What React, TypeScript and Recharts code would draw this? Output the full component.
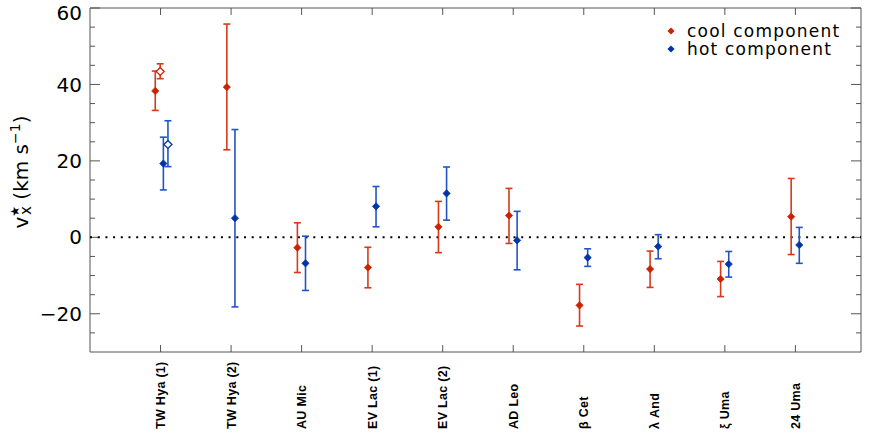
import React from 'react';
import { ScatterChart, Scatter, XAxis, YAxis, ErrorBar, ReferenceLine, ReferenceArea, Legend } from 'recharts';

// stars / observations, one tick each
const categories = ['TW Hya (1)', 'TW Hya (2)', 'AU Mic', 'EV Lac (1)', 'EV Lac (2)', 'AD Leo', 'β Cet', 'λ And', 'ξ Uma', '24 Uma'];

// cool component: value, lower and upper end of the error bar (km/s)
const coolValues = [38.3, 39.3, -2.7, -7.9, 2.75, 5.7, -17.8, -8.3, -10.9, 5.4];
const coolLower = [33.2, 22.9, -9.2, -13.2, -4.0, -1.6, -23.2, -13.1, -15.5, -4.5];
const coolUpper = [43.5, 55.8, 3.8, -2.6, 9.4, 12.8, -12.3, -3.6, -6.3, 15.4];

// hot component
const hotValues = [19.3, 5.0, -6.8, 8.1, 11.5, -0.8, -5.3, -2.4, -7.0, -2.0];
const hotLower = [12.4, -18.2, -13.9, 2.75, 4.5, -8.5, -7.6, -5.6, -10.4, -6.8];
const hotUpper = [26.2, 28.2, 0.3, 13.3, 18.4, 6.8, -3.0, 0.7, -3.7, 2.6];

// alternative solution for TW Hya (1), drawn with open symbols
const altCategory = [0];
const coolAltValues = [43.4];
const coolAltLower = [41.5];
const coolAltUpper = [45.4];
const hotAltValues = [24.3];
const hotAltLower = [18.5];
const hotAltUpper = [30.5];

const yMajorTicks = [-20, 0, 20, 40, 60];
const yMinorTicks = [-25, -15, -10, -5, 5, 10, 15, 25, 30, 35, 45, 50, 55];

const X_MAX = 10.93;
const Y_MIN = -30;
const Y_MAX = 60;

const RED = '#cc2200';
const RED_BAR = '#d63a1a';
const BLUE = '#0035a8';
const BLUE_BAR = '#2255c4';
const AXIS = '#555';
const FONT = '"DejaVu Sans", sans-serif';

// horizontal shift of the two components around the tick
const coolShift = (i: number) => (i === 0 ? -0.075 : -0.06);
const hotShift = (i: number) => (i === 0 ? 0.04 : 0.055);
const coolAltShift = -0.005;
const hotAltShift = 0.105;

const makeRows = (idx: number[], vals: number[], lo: number[], hi: number[], shift: (i: number) => number) =>
    vals.map((v, k) => ({
        x: idx[k] + 1 + shift(idx[k]),
        y: v,
        err: [v - lo[k], hi[k] - v]
    }));

const allIdx = categories.map((_, i) => i);
const coolRows = makeRows(allIdx, coolValues, coolLower, coolUpper, coolShift);
const hotRows = makeRows(allIdx, hotValues, hotLower, hotUpper, hotShift);
const coolAltRows = makeRows(altCategory, coolAltValues, coolAltLower, coolAltUpper, () => coolAltShift);
const hotAltRows = makeRows(altCategory, hotAltValues, hotAltLower, hotAltUpper, () => hotAltShift);

const diamondPoints = (cx: number, cy: number, r: number) =>
    `${cx},${cy - r} ${cx + r},${cy} ${cx},${cy + r} ${cx - r},${cy}`;

const filledDiamond = (color: string) => (props: any) => (
    <polygon points={diamondPoints(props.cx, props.cy, 3.6)} fill={color} stroke={color} strokeWidth={0.8} />
);

const openDiamond = (color: string) => (props: any) => (
    <polygon points={diamondPoints(props.cx, props.cy, 4)} fill="#fff" stroke={color} strokeWidth={1.3} />
);

const XTick = (props: any) => {
    const { x, y, payload } = props;
    return (
        <g transform={`translate(${x},${y + 77})`}>
            <text
                transform="rotate(-90)"
                textAnchor="start"
                dy="0.36em"
                fontFamily='"Liberation Sans", Arial, sans-serif'
                fontWeight="bold"
                fontSize={12.5}
                letterSpacing={0.3}
                fill="#000"
            >
                {categories[payload.value - 1]}
            </text>
        </g>
    );
};

const YTick = (props: any) => {
    const { x, y, payload } = props;
    const v = payload.value;
    // top label sits a little lower so it stays inside the page
    const shift = v === Y_MAX ? 5 : 0;
    return (
        <text x={x} y={y + shift} dy="0.355em" textAnchor="end" fontFamily={FONT} fontSize={20} fill="#000">
            {v < 0 ? `−${-v}` : `${v}`}
        </text>
    );
};

const YLabel = (props: any) => {
    const vb = props.viewBox || { x: 0, y: 8, width: 90, height: 344 };
    const cx = vb.x + 28;
    const cy = vb.y + vb.height / 2 - 8;
    return (
        <text transform={`translate(${cx},${cy}) rotate(-90)`} textAnchor="middle" fontFamily={FONT} fontSize={20} fill="#000">
            <tspan>v</tspan>
            <tspan fontSize={12} dy={-9}>★</tspan>
            <tspan fontSize={15} dx={-9} dy={12}>x</tspan>
            <tspan dy={-3}> (km s</tspan>
            <tspan fontSize={14} dy={-8}>−1</tspan>
            <tspan dy={8}>)</tspan>
        </text>
    );
};

const renderLegend = (props: any) => {
    const items = (props.payload || []).filter((p: any) => p.type !== 'none');
    return (
        <div style={{ fontFamily: FONT, fontSize: 17, letterSpacing: 1.2, lineHeight: '18.5px', color: '#000' }}>
            {items.map((item: any) => (
                <div key={item.value} style={{ display: 'flex', alignItems: 'center', height: 18.5, whiteSpace: 'nowrap' }}>
                    <svg width={16} height={16} style={{ marginRight: 8 }}>
                        <polygon points={diamondPoints(8, 8, 3.6)} fill={item.color} />
                    </svg>
                    <span>{item.value}</span>
                </div>
            ))}
        </div>
    );
};

const App = () => {
    const edgeTickX = 10 / 70.5;
    const minorTickX = 5 / 70.5;
    const edgeTickY = 7 / 3.822;
    const xTicks = categories.map((_, i) => i + 1);

    return (
        <div style={{ position: 'absolute', left: 0, top: 0 }}>
            <ScatterChart width={872} height={436} margin={{ top: 8, right: 11, bottom: 0, left: 0 }}>
                <XAxis
                    type="number"
                    dataKey="x"
                    domain={[0, X_MAX]}
                    ticks={xTicks}
                    interval={0}
                    allowDataOverflow
                    height={84}
                    axisLine={false}
                    tickLine={false}
                    tickSize={0}
                    tickMargin={0}
                    tick={<XTick />}
                />
                <YAxis
                    type="number"
                    dataKey="y"
                    domain={[Y_MIN, Y_MAX]}
                    ticks={yMajorTicks}
                    interval={0}
                    allowDataOverflow
                    width={90}
                    axisLine={false}
                    tickLine={false}
                    tickSize={0}
                    tickMargin={8}
                    tick={<YTick />}
                    label={(p: any) => <YLabel {...p} />}
                />

                <ReferenceArea x1={0} x2={X_MAX} y1={Y_MIN} y2={Y_MAX} fill="none" stroke={AXIS} strokeWidth={1} ifOverflow="visible" />

                {yMajorTicks.map((t) => (
                    <ReferenceLine key={`yl${t}`} segment={[{ x: 0, y: t }, { x: edgeTickX, y: t }]} stroke={AXIS} ifOverflow="visible" />
                ))}
                {yMajorTicks.map((t) => (
                    <ReferenceLine key={`yr${t}`} segment={[{ x: X_MAX - edgeTickX, y: t }, { x: X_MAX, y: t }]} stroke={AXIS} ifOverflow="visible" />
                ))}
                {yMinorTicks.map((t) => (
                    <ReferenceLine key={`ml${t}`} segment={[{ x: 0, y: t }, { x: minorTickX, y: t }]} stroke={AXIS} ifOverflow="visible" />
                ))}
                {yMinorTicks.map((t) => (
                    <ReferenceLine key={`mr${t}`} segment={[{ x: X_MAX - minorTickX, y: t }, { x: X_MAX, y: t }]} stroke={AXIS} ifOverflow="visible" />
                ))}
                {xTicks.map((t) => (
                    <ReferenceLine key={`xb${t}`} segment={[{ x: t, y: Y_MIN }, { x: t, y: Y_MIN + edgeTickY }]} stroke={AXIS} ifOverflow="visible" />
                ))}
                {xTicks.map((t) => (
                    <ReferenceLine key={`xt${t}`} segment={[{ x: t, y: Y_MAX - edgeTickY }, { x: t, y: Y_MAX }]} stroke={AXIS} ifOverflow="visible" />
                ))}

                <ReferenceLine y={0} stroke="#000" strokeWidth={2} strokeDasharray="2 5.7" />

                <Legend
                    layout="vertical"
                    align="center"
                    verticalAlign="middle"
                    content={renderLegend}
                    wrapperStyle={{ top: 21.5, left: 663, width: 200 }}
                />

                <Scatter name="cool component" data={coolRows} fill={RED} shape={filledDiamond(RED)} isAnimationActive={false}>
                    <ErrorBar dataKey="err" direction="y" width={3.5} stroke={RED_BAR} strokeWidth={1.6} />
                </Scatter>
                <Scatter name="hot component" data={hotRows} fill={BLUE} shape={filledDiamond(BLUE)} isAnimationActive={false}>
                    <ErrorBar dataKey="err" direction="y" width={3.5} stroke={BLUE_BAR} strokeWidth={1.6} />
                </Scatter>
                <Scatter name="cool alt" legendType="none" data={coolAltRows} fill={RED} shape={openDiamond(RED)} isAnimationActive={false}>
                    <ErrorBar dataKey="err" direction="y" width={3.5} stroke={RED_BAR} strokeWidth={1.6} />
                </Scatter>
                <Scatter name="hot alt" legendType="none" data={hotAltRows} fill={BLUE} shape={openDiamond(BLUE)} isAnimationActive={false}>
                    <ErrorBar dataKey="err" direction="y" width={3.5} stroke={BLUE_BAR} strokeWidth={1.6} />
                </Scatter>
            </ScatterChart>
        </div>
    );
};

export default App;
